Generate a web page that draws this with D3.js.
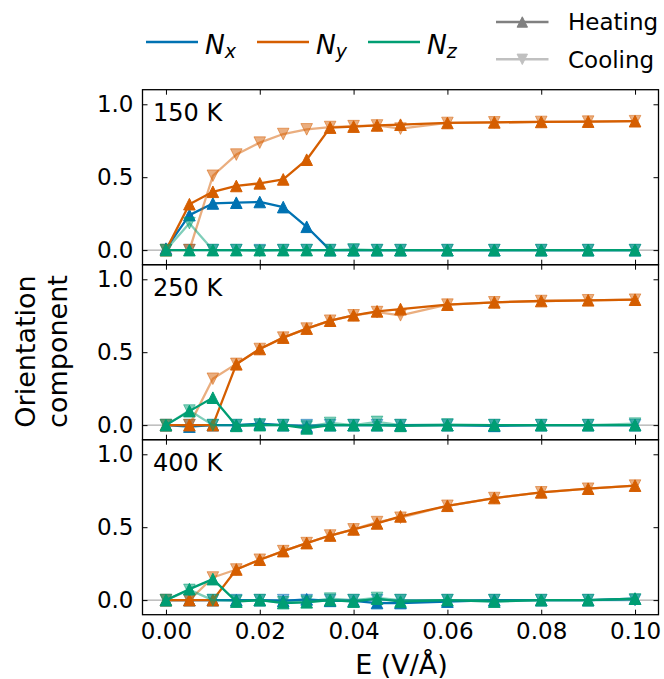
<!DOCTYPE html>
<html>
<head>
<meta charset="utf-8">
<script src="https://cdn.jsdelivr.net/npm/d3@7"></script>
<style>
  html, body { margin: 0; padding: 0; background: #fff; }
  svg text { font-family: "DejaVu Sans", sans-serif; fill: #000; }
</style>
</head>
<body>
<svg id="chart" width="664" height="679"></svg>
<script>
// ---------------- DATA ----------------
const E = [0, 0.005, 0.01, 0.015, 0.02, 0.025, 0.03, 0.035, 0.04, 0.045, 0.05, 0.06, 0.07, 0.08, 0.09, 0.10];
const temperatures = ["150 K", "250 K", "400 K"];
const xTicks = [0, 0.02, 0.04, 0.06, 0.08, 0.10];
const yTicks = [0, 0.5, 1.0];
const components = ["Nx", "Ny", "Nz"];
const modes = ["Heating", "Cooling"];

// 150 K
const nx150Heat = [0.01, 0.24, 0.32, 0.325, 0.33, 0.295, 0.16, 0.0, 0.0, 0.0, 0.0, 0.0, 0.0, 0.0, 0.0, 0.0];
const nx150Cool = [0.0, 0.0, 0.0, 0.0, 0.0, 0.0, 0.0, 0.0, 0.0, 0.0, 0.0, 0.0, 0.0, 0.0, 0.0, 0.0];
const ny150Heat = [0.0, 0.315, 0.40, 0.44, 0.458, 0.485, 0.62, 0.84, 0.847, 0.855, 0.86, 0.872, 0.876, 0.879, 0.881, 0.884];
const ny150Cool = [0.0, 0.0, 0.51, 0.655, 0.737, 0.796, 0.828, 0.844, 0.85, 0.855, 0.833, 0.872, 0.876, 0.879, 0.881, 0.884];
const nz150Heat = [0.0, 0.0, 0.0, 0.0, 0.0, 0.0, 0.0, 0.0, 0.0, 0.0, 0.0, 0.0, 0.0, 0.0, 0.0, 0.0];
const nz150Cool = [0.0, 0.185, 0.0, 0.0, -0.005, 0.0, 0.0, 0.0, 0.005, 0.0, 0.0, 0.0, 0.0, 0.0, 0.0, 0.0];

// 250 K
const nx250Heat = [0.0, -0.01, 0.0, 0.0, 0.01, 0.0, -0.01, 0.0, 0.0, 0.0, 0.0, 0.0, -0.005, 0.0, 0.0, 0.0];
const nx250Cool = [0.0, 0.0, 0.0, 0.0, 0.0, 0.0, 0.0, 0.0, 0.0, 0.0, 0.0, 0.0, 0.0, 0.0, 0.0, 0.0];
const ny250Heat = [0.0, 0.0, 0.0, 0.417, 0.522, 0.60, 0.662, 0.716, 0.753, 0.78, 0.796, 0.826, 0.842, 0.851, 0.856, 0.86];
const ny250Cool = [0.0, 0.0, 0.318, 0.42, 0.522, 0.60, 0.662, 0.716, 0.753, 0.775, 0.753, 0.826, 0.842, 0.851, 0.856, 0.86];
const nz250Heat = [0.0, 0.096, 0.188, -0.005, 0.0, 0.0, -0.022, 0.0, 0.0, 0.0, -0.005, 0.0, 0.0, 0.0, 0.0, 0.0];
const nz250Cool = [0.0, 0.1, 0.0, 0.0, 0.005, 0.0, -0.01, 0.015, 0.0, 0.022, 0.0, 0.005, 0.0, 0.0, 0.0, 0.01];

// 400 K
const nx400Heat = [0.0, 0.0, 0.0, 0.0, 0.0, -0.005, 0.005, -0.005, -0.005, -0.02, -0.02, -0.01, 0.0, 0.0, 0.0, 0.01];
const nx400Cool = [0.0, 0.0, 0.0, 0.0, 0.0, 0.0, 0.0, 0.0, 0.0, 0.0, 0.0, 0.0, 0.0, 0.0, 0.0, 0.0];
const ny400Heat = [0.0, 0.0, 0.0, 0.21, 0.277, 0.336, 0.391, 0.443, 0.485, 0.526, 0.574, 0.647, 0.70, 0.739, 0.764, 0.785];
const ny400Cool = [0.0, 0.0, 0.155, 0.21, 0.277, 0.336, 0.391, 0.443, 0.485, 0.535, 0.565, 0.647, 0.70, 0.739, 0.764, 0.785];
const nz400Heat = [0.0, 0.075, 0.144, -0.01, 0.0, -0.02, -0.015, 0.0, -0.01, 0.01, -0.01, 0.0, -0.01, 0.0, 0.0, 0.01];
const nz400Cool = [0.0, 0.07, 0.0, -0.005, 0.0, -0.015, -0.01, 0.01, 0.0, 0.015, 0.0, 0.0, 0.0, 0.0, 0.0, 0.005];

const panelData = [
  { Nx: [nx150Heat, nx150Cool], Ny: [ny150Heat, ny150Cool], Nz: [nz150Heat, nz150Cool] },
  { Nx: [nx250Heat, nx250Cool], Ny: [ny250Heat, ny250Cool], Nz: [nz250Heat, nz250Cool] },
  { Nx: [nx400Heat, nx400Cool], Ny: [ny400Heat, ny400Cool], Nz: [nz400Heat, nz400Cool] }
];

// ---------------- STYLE / LAYOUT ----------------
const colors = { Nx: "#0072B2", Ny: "#D55E00", Nz: "#009E73" };
const tickFont = 23;
const labelFont = 27;
const legendFont = 23;
const panelFont = 24;
const left = 142.5, right = 658.5;
const panelTop = 89.7, panelH = 175;
const tickLen = 5;
const markR = 5.8;

const svg = d3.select("#chart");
const x = d3.scaleLinear().domain([-0.005, 0.105]).range([left, right]);

function triPath(r, up) {
  return up ? `M0,${-r}L${-r},${r}L${r},${r}Z` : `M0,${r}L${-r},${-r}L${r},${-r}Z`;
}

temperatures.forEach((T, i) => {
  const top = panelTop + i * panelH;
  const y = d3.scaleLinear().domain([-0.1, 1.1]).range([top + panelH, top]);
  const g = svg.append("g");

  const clipId = "clip" + i;
  svg.append("clipPath").attr("id", clipId)
    .append("rect").attr("x", left).attr("y", top).attr("width", right - left).attr("height", panelH);

  g.append("line").attr("x1", left).attr("x2", right).attr("y1", y(0)).attr("y2", y(0))
    .attr("stroke", "#999").attr("stroke-width", 1);

  const data = panelData[i];
  const plot = g.append("g").attr("clip-path", `url(#${clipId})`);
  const line = d3.line().x((d, k) => x(E[k])).y(d => y(d));

  components.forEach(c => {
    [0, 1].forEach(m => {
      const vals = data[c][m];
      const op = m === 0 ? 1 : 0.5;
      plot.append("path").datum(vals).attr("d", line)
        .attr("fill", "none").attr("stroke", colors[c]).attr("stroke-width", 2.3)
        .attr("stroke-opacity", op).attr("stroke-linejoin", "round");
      plot.selectAll(null).data(vals).enter().append("path")
        .attr("transform", (d, k) => `translate(${x(E[k])},${y(d)})`)
        .attr("d", triPath(markR, m === 0))
        .attr("fill", colors[c]).attr("fill-opacity", op)
        .attr("stroke", colors[c]).attr("stroke-opacity", op).attr("stroke-width", 1);
    });
  });

  const axL = d3.axisLeft(y).tickValues(yTicks).tickSize(-tickLen).tickPadding(9).tickFormat(d3.format(".1f"));
  const axR = d3.axisRight(y).tickValues(yTicks).tickSize(-tickLen).tickFormat("");
  const axT = d3.axisTop(x).tickValues(xTicks).tickSize(-tickLen).tickFormat("");
  const axB = d3.axisBottom(x).tickValues(xTicks).tickSize(-tickLen).tickPadding(8)
    .tickFormat(i === 2 ? d3.format(".2f") : "");

  [[axL, `translate(${left},0)`], [axR, `translate(${right},0)`],
   [axT, `translate(0,${top})`], [axB, `translate(0,${top + panelH})`]].forEach(([ax, tr]) => {
    const a = g.append("g").attr("transform", tr).call(ax);
    a.select(".domain").remove();
    a.selectAll(".tick line").attr("stroke", "#000").attr("stroke-width", 1);
    a.selectAll(".tick text").attr("font-size", tickFont).attr("fill", "#000")
      .style("font-family", "DejaVu Sans");
  });

  g.append("rect").attr("x", left).attr("y", top).attr("width", right - left).attr("height", panelH)
    .attr("fill", "none").attr("stroke", "#000").attr("stroke-width", 1.3);

  g.append("text").attr("x", left + 10.5).attr("y", top + 31.5).attr("font-size", panelFont).text(T);
});

// axis labels
svg.append("text").attr("x", 401.5).attr("y", 674).attr("text-anchor", "middle")
  .attr("font-size", labelFont).text("E (V/Å)");
const yl = svg.append("text").attr("transform", `translate(0,351.5) rotate(-90)`)
  .attr("text-anchor", "middle").attr("font-size", labelFont);
yl.append("tspan").attr("x", 0).attr("y", 35).text("Orientation");
yl.append("tspan").attr("x", 0).attr("y", 67).text("component");

// legend 1 (components)
const leg1 = [
  { c: "Nx", sub: "x", x0: 146 },
  { c: "Ny", sub: "y", x0: 257 },
  { c: "Nz", sub: "z", x0: 368 }
];
leg1.forEach(L => {
  svg.append("line").attr("x1", L.x0).attr("x2", L.x0 + 52).attr("y1", 42).attr("y2", 42)
    .attr("stroke", colors[L.c]).attr("stroke-width", 2.4);
  const t = svg.append("text").attr("x", L.x0 + 59).attr("y", 54).attr("font-size", 26.5)
    .attr("font-style", "italic");
  t.append("tspan").text("N");
  t.append("tspan").attr("dy", 4).attr("font-size", 19).text(L.sub);
});

// legend 2 (heating/cooling)
const leg2 = [
  { label: "Heating", y: 22, up: true, col: "#808080" },
  { label: "Cooling", y: 59.3, up: false, col: "#c0c0c0" }
];
leg2.forEach(L => {
  svg.append("line").attr("x1", 496).attr("x2", 548.5).attr("y1", L.y).attr("y2", L.y)
    .attr("stroke", L.col).attr("stroke-width", 2.4);
  svg.append("path").attr("transform", `translate(522.3,${L.y})`).attr("d", triPath(5.2, L.up))
    .attr("fill", L.col).attr("stroke", L.col).attr("stroke-width", 1);
  svg.append("text").attr("x", 568).attr("y", L.y + 8.3).attr("font-size", legendFont).text(L.label);
});
</script>
</body>
</html>
